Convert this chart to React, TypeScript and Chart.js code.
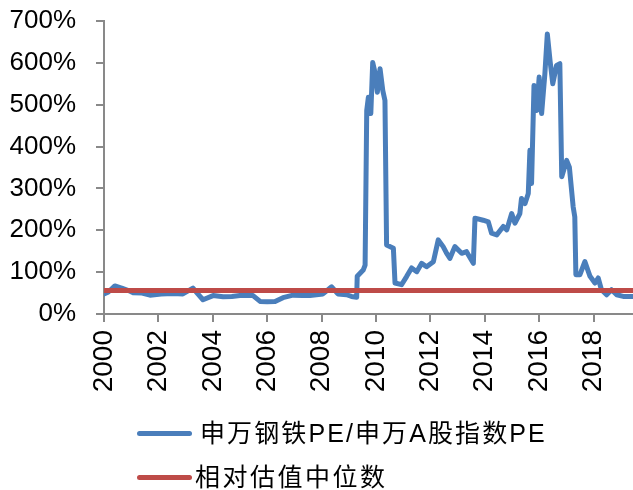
import React, { useEffect, useRef } from "react";
import { Chart, registerables } from "chart.js";

Chart.register(...registerables);

// Time axis (decimal years) and series values (%)
const years = [
  2000.0, 2000.15, 2000.4, 2000.65, 2000.9, 2001.07, 2001.4, 2001.69, 2002.1, 2002.54,
  2002.9, 2003.27, 2003.45, 2003.64, 2004.01, 2004.38, 2004.7, 2005.0, 2005.48, 2005.74,
  2006.0, 2006.29, 2006.58, 2006.95, 2007.3, 2007.57, 2008.05, 2008.37, 2008.6, 2008.92,
  2009.1, 2009.29, 2009.31, 2009.53, 2009.6, 2009.66, 2009.72, 2009.81, 2009.88, 2009.96,
  2010.05, 2010.15, 2010.25, 2010.33, 2010.39, 2010.64, 2010.7, 2010.94, 2011.13, 2011.31,
  2011.5, 2011.68, 2011.86, 2012.11, 2012.29, 2012.47, 2012.6, 2012.72, 2012.9, 2013.15,
  2013.33, 2013.58, 2013.64, 2013.94, 2014.13, 2014.25, 2014.44, 2014.68, 2014.81, 2014.99,
  2015.11, 2015.29, 2015.35, 2015.48, 2015.6, 2015.66, 2015.72, 2015.81, 2015.91, 2016.0,
  2016.09, 2016.21, 2016.3, 2016.4, 2016.5, 2016.64, 2016.76, 2016.83, 2017.01, 2017.11,
  2017.25, 2017.31, 2017.35, 2017.5, 2017.68, 2017.87, 2018.05, 2018.17, 2018.29, 2018.48,
  2018.66, 2018.85, 2019.09, 2019.45,
];
const relativePE = [
  48, 52, 67, 62, 56, 51, 50, 45, 48, 49,
  48, 62, 48, 34, 44, 41, 42, 44, 44, 30,
  29, 30, 39, 45, 44, 44, 48, 65, 48, 46,
  42, 40, 90, 105, 117, 486, 518, 479, 601, 578,
  530, 586, 534, 510, 165, 157, 74, 70, 90, 110,
  101, 121, 113, 125, 177, 161, 145, 133, 161, 145,
  149, 121, 229, 224, 220, 193, 189, 209, 201, 240,
  217, 240, 276, 264, 288, 391, 312, 546, 486, 566,
  479, 574, 669, 605, 550, 594, 598, 328, 367, 351,
  256, 232, 94, 94, 125, 90, 74, 86, 58, 46,
  58, 46, 42, 42,
];
const medianYears = [2000, 2019.45];
const medianValues = [56, 56];

const yTicks = [0, 100, 200, 300, 400, 500, 600, 700];
const xTickYears = [2000, 2002, 2004, 2006, 2008, 2010, 2012, 2014, 2016, 2018];

const seriesNames = ["申万钢铁PE/申万A股指数PE", "相对估值中位数"];
const seriesColors = ["#4A7EBB", "#BE4B48"];

const FONT = '"Liberation Sans", Arial, "Noto Sans CJK SC", sans-serif';

export default function App() {
  const ref = useRef<HTMLCanvasElement | null>(null);

  useEffect(() => {
    if (!ref.current) return;
    const chart = new Chart(ref.current, {
      type: "line",
      data: {
        datasets: [
          {
            label: seriesNames[0],
            data: years.map((x, i) => ({ x, y: relativePE[i] })),
            borderColor: seriesColors[0],
            backgroundColor: seriesColors[0],
            borderWidth: 5,
            pointRadius: 0,
            tension: 0,
            borderJoinStyle: "round",
            borderCapStyle: "round",
            order: 2,
          },
          {
            label: seriesNames[1],
            data: medianYears.map((x, i) => ({ x, y: medianValues[i] })),
            borderColor: seriesColors[1],
            backgroundColor: seriesColors[1],
            borderWidth: 5,
            pointRadius: 0,
            order: 1,
          },
        ],
      },
      options: {
        responsive: false,
        animation: false,
        layout: { padding: { top: 21, right: 0, left: 0, bottom: 0 } },
        plugins: {
          legend: { display: false },
          tooltip: { enabled: false },
        },
        scales: {
          x: {
            type: "linear",
            min: years[0],
            max: years[years.length - 1],
            afterBuildTicks: (scale: any) => {
              scale.ticks = xTickYears.map((v) => ({ value: v }));
            },
            afterFit: (scale: any) => {
              scale.height = 176;
              scale.paddingLeft = 0;
              scale.paddingRight = 0;
            },
            ticks: {
              minRotation: 90,
              maxRotation: 90,
              padding: 8,
              color: "#000",
              font: { family: FONT, size: 28 },
              callback: (v: any) => String(v),
            },
            grid: {
              drawOnChartArea: false,
              drawTicks: true,
              tickLength: 8,
              color: "#898989",
              lineWidth: 2,
            },
            border: { color: "#898989", width: 2 },
          },
          y: {
            min: 0,
            max: 700,
            afterBuildTicks: (scale: any) => {
              scale.ticks = yTicks.map((v) => ({ value: v }));
            },
            afterFit: (scale: any) => {
              scale.width = 104;
              scale.paddingTop = 0;
              scale.paddingBottom = 0;
            },
            ticks: {
              padding: 20,
              color: "#000",
              font: { family: FONT, size: 26 },
              callback: (v: any) => v + "%",
            },
            grid: {
              drawOnChartArea: false,
              drawTicks: true,
              tickLength: 8,
              color: "#898989",
              lineWidth: 2,
            },
            border: { color: "#898989", width: 2 },
          },
        },
      },
    });
    return () => chart.destroy();
  }, []);

  const legendRows = [
    { top: 433, lineLeft: 137, textLeft: 200, spacing: 2.1 },
    { top: 477, lineLeft: 137, textLeft: 195, spacing: 2.5 },
  ];

  return (
    <div style={{ position: "absolute", left: 0, top: 0, width: 633, height: 490, background: "#fff" }}>
      <canvas ref={ref} width={633} height={490} style={{ display: "block" }} />
      {seriesNames.map((name, i) => (
        <div key={name}>
          <div
            style={{
              position: "absolute",
              left: legendRows[i].lineLeft,
              top: legendRows[i].top - 2.5,
              width: 55,
              height: 5,
              borderRadius: 2.5,
              background: seriesColors[i],
            }}
          />
          <div
            style={{
              position: "absolute",
              left: legendRows[i].textLeft,
              top: legendRows[i].top - 16,
              fontFamily: FONT,
              fontSize: 25,
              lineHeight: "32px",
              letterSpacing: legendRows[i].spacing,
              color: "#000",
              whiteSpace: "nowrap",
            }}
          >
            {name}
          </div>
        </div>
      ))}
    </div>
  );
}
